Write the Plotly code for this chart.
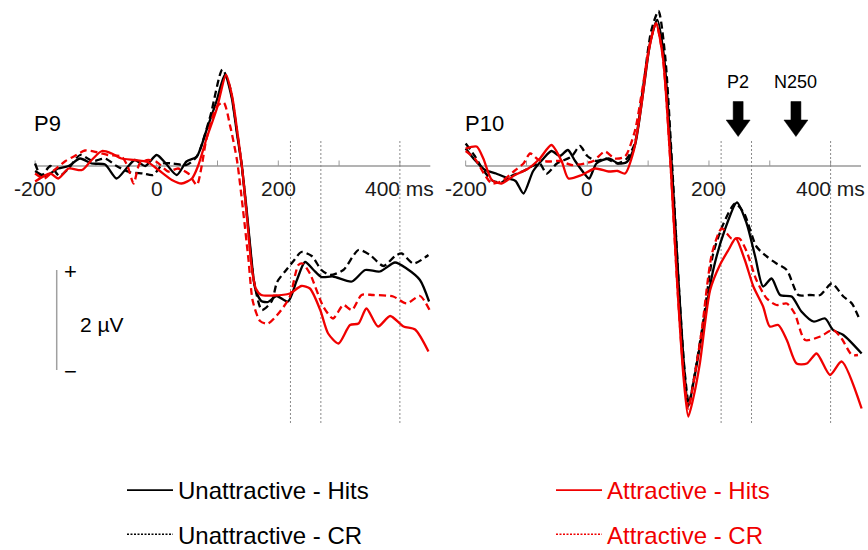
import plotly.graph_objects as go

# ---------------- data (time in ms, amplitude in µV) ----------------
# P9 electrode
p9_uh_t = [-200, -184, -162, -145, -126, -107, -85, -66, -50, -36, -19, 0, 15, 33, 49, 66, 82, 99, 112, 123, 132, 140, 148, 156, 162, 172, 183, 197, 216, 230, 244, 258, 271, 290, 321, 343, 367, 392, 411, 433, 448]
p9_uh_v = [-0.1, -0.2, -0.05, 0.0, 0.15, 0.05, 0.03, -0.25, -0.05, 0.12, 0.0, 0.22, 0.05, -0.18, 0.09, 0.19, 0.72, 1.32, 1.82, 1.39, 0.65, 0.0, -0.88, -1.88, -2.45, -2.7, -2.72, -2.6, -2.71, -2.3, -1.92, -2.08, -2.22, -2.21, -2.31, -2.08, -2.11, -1.93, -2.05, -2.28, -2.71]

p9_ucr_t = [-200, -190, -175, -160, -145, -126, -105, -85, -66, -45, -22, -6, 11, 27, 49, 66, 88, 108, 120, 132, 140, 150, 160, 173, 189, 198, 211, 225, 238, 255, 271, 285, 307, 332, 351, 373, 392, 403, 422, 447]
p9_ucr_v = [0.05, -0.2, 0.0, -0.2, -0.05, 0.22, 0.1, 0.15, 0.0, -0.12, -0.15, -0.18, 0.05, 0.05, 0.02, 0.19, 0.99, 1.93, 1.6, 0.7, 0.0, -1.2, -2.3, -2.88, -2.71, -2.32, -2.11, -1.9, -1.72, -1.8, -2.08, -2.18, -2.08, -1.68, -1.78, -2.0, -1.8, -1.75, -1.95, -1.78]

p9_ah_t = [-200, -175, -162, -145, -123, -107, -90, -74, -58, -36, -15, 3, 25, 41, 58, 68, 82, 99, 114, 124, 133, 141, 149, 156, 163, 172, 192, 219, 238, 252, 269, 282, 299, 318, 332, 345, 364, 384, 406, 425, 447]
p9_ah_v = [-0.31, -0.15, -0.25, -0.05, -0.08, 0.12, 0.3, 0.25, 0.15, 0.12, 0.08, -0.08, -0.28, -0.35, -0.25, 0.0, 0.55, 1.15, 1.82, 1.4, 0.65, -0.1, -1.1, -2.0, -2.45, -2.58, -2.59, -2.55, -2.4, -2.45, -2.88, -3.35, -3.55, -3.18, -3.15, -2.85, -3.21, -3.0, -3.21, -3.27, -3.71]

p9_acr_t = [-200, -185, -170, -150, -135, -118, -100, -80, -58, -48, -38, -28, -14, 0, 19, 35, 52, 66, 74, 82, 99, 110, 121, 132, 142, 151, 158, 170, 183, 203, 219, 233, 240, 252, 274, 290, 307, 321, 337, 356, 389, 411, 433, 450]
p9_acr_v = [-0.15, -0.25, -0.1, 0.1, 0.2, 0.31, 0.28, 0.22, 0.19, 0.0, -0.35, 0.05, 0.12, 0.08, -0.11, -0.05, -0.15, -0.38, 0.0, 0.55, 1.19, 1.27, 0.79, 0.12, -0.88, -1.88, -2.7, -3.1, -3.15, -2.91, -2.61, -1.98, -1.95, -2.15, -2.81, -3.05, -2.78, -2.88, -2.58, -2.58, -2.61, -2.75, -2.6, -2.91]

# P10 electrode
p10_uh_t = [-200, -185, -168, -150, -130, -118, -105, -89, -72, -59, -45, -32, -20, -5, 3, 15, 35, 51, 65, 78, 92, 104, 115, 126, 139, 150, 159, 166, 175, 185, 207, 226, 246, 262, 276, 289, 303, 317, 336, 352, 372, 391, 404, 421, 451]
p10_uh_v = [0.35, 0.12, -0.08, -0.15, -0.25, -0.3, -0.55, -0.1, 0.15, 0.3, 0.2, 0.32, 0.1, -0.15, -0.25, 0.05, 0.15, 0.05, 0.08, 0.4, 1.49, 2.5, 2.92, 2.2, 0.0, -2.3, -4.0, -4.81, -4.3, -3.61, -2.08, -1.28, -0.73, -1.15, -1.81, -2.41, -2.25, -2.58, -2.61, -2.91, -3.11, -3.05, -3.28, -3.38, -3.75]

p10_ucr_t = [-200, -185, -170, -155, -140, -125, -105, -90, -78, -67, -50, -26, -12, 0, 15, 30, 50, 65, 78, 92, 105, 117, 128, 140, 151, 160, 167, 176, 191, 207, 224, 243, 258, 278, 295, 311, 328, 347, 366, 383, 402, 421, 435, 448]
p10_ucr_v = [0.45, 0.2, -0.1, -0.3, -0.32, -0.2, -0.1, 0.0, 0.05, -0.15, 0.05, 0.19, 0.4, 0.2, 0.1, 0.15, 0.05, 0.15, 0.45, 1.6, 2.7, 3.1, 2.2, -0.1, -2.5, -4.1, -4.75, -4.2, -3.08, -1.75, -1.15, -0.75, -0.95, -1.61, -1.81, -1.95, -2.08, -2.58, -2.58, -2.58, -2.35, -2.61, -2.75, -3.08]

p10_ah_t = [-200, -182, -171, -157, -141, -119, -97, -78, -59, -42, -31, -9, 13, 35, 50, 62, 76, 89, 101, 113, 124, 137, 148, 158, 166, 175, 185, 202, 218, 232, 244, 259, 273, 289, 300, 314, 328, 344, 361, 377, 399, 418, 451]
p10_ah_v = [0.35, 0.39, 0.15, -0.28, -0.35, -0.18, -0.05, 0.15, 0.42, 0.09, -0.25, -0.18, -0.05, -0.11, -0.1, -0.15, 0.29, 1.22, 2.3, 2.85, 2.2, 0.0, -2.4, -4.2, -5.01, -4.6, -3.95, -2.48, -1.98, -1.68, -1.45, -1.88, -2.41, -2.81, -3.21, -3.18, -3.48, -3.95, -3.95, -3.75, -4.18, -3.91, -4.85]

p10_acr_t = [-200, -185, -170, -157, -140, -120, -105, -94, -80, -64, -45, -26, -5, 10, 29, 45, 62, 78, 90, 102, 113, 124, 137, 148, 158, 166, 175, 188, 205, 221, 237, 250, 262, 278, 295, 311, 328, 341, 358, 383, 404, 418, 435, 445]
p10_acr_v = [0.3, 0.15, -0.15, -0.35, -0.3, -0.1, 0.05, 0.25, 0.12, 0.09, 0.1, 0.02, 0.05, 0.1, 0.29, 0.15, 0.19, 0.69, 1.5, 2.4, 2.85, 2.2, 0.0, -2.4, -4.1, -4.85, -4.3, -3.3, -1.75, -1.25, -1.45, -1.45, -1.71, -2.28, -2.65, -2.78, -2.75, -2.95, -3.48, -3.41, -3.28, -3.45, -3.78, -3.78]

# axes / annotations
tick_marks = [-200, -100, 0, 100, 200, 300, 400]
tick_pos = [-200, 0, 200, 400]
tick_text = ["-200", "0", "200", "400 ms"]
axis_end = 450
window_lines = [220, 270, 400]
panel_names = ["P9", "P10"]
component_names = ["P2", "N250"]
component_times = [248, 343]
scale_bar_uv = 2
series_names = ["Unattractive - Hits", "Unattractive - CR", "Attractive - Hits", "Attractive - CR"]

# ---------------- figure ----------------
W, H = 868, 550
BLACK, RED = "#000000", "#f00000"
FONT = "Liberation Sans, Arial, sans-serif"

fig = go.Figure()

panels = [
    ("x", "y", [(p9_ucr_t, p9_ucr_v, BLACK, "7px,4px"), (p9_uh_t, p9_uh_v, BLACK, "solid"),
                (p9_acr_t, p9_acr_v, RED, "7px,4px"), (p9_ah_t, p9_ah_v, RED, "solid")]),
    ("x2", "y2", [(p10_ucr_t, p10_ucr_v, BLACK, "7px,4px"), (p10_uh_t, p10_uh_v, BLACK, "solid"),
                  (p10_acr_t, p10_acr_v, RED, "7px,4px"), (p10_ah_t, p10_ah_v, RED, "solid")]),
]

shapes = []
annotations = []
for pi, (xa, ya, curves) in enumerate(panels):
    shapes.append(dict(type="line", xref=xa, yref=ya, x0=tick_marks[0], x1=axis_end, y0=0, y1=0,
                       line=dict(color="#9a9a9a", width=1.5), layer="below"))
    for t in tick_marks:
        shapes.append(dict(type="line", xref=xa, yref=ya, x0=t, x1=t, y0=0, y1=0.11,
                           line=dict(color="#9a9a9a", width=1), layer="below"))
    for t in window_lines:
        shapes.append(dict(type="line", xref=xa, yref=ya, x0=t, x1=t, y0=0.5, y1=-5.15,
                           line=dict(color="#8a8a8a", width=1, dash="2px,2px"), layer="below"))
    for t, lab in zip(tick_pos, tick_text):
        annotations.append(dict(xref=xa, yref=ya, x=t, y=0, yshift=-22, text=lab, showarrow=False,
                                xanchor="center", yanchor="middle",
                                font=dict(family=FONT, size=21, color="#1a1a1a")))
    annotations.append(dict(xref=xa, yref=ya, x=tick_marks[0], y=0.86, text=panel_names[pi],
                            showarrow=False, xanchor="left", yanchor="middle", xshift=-3,
                            font=dict(family=FONT, size=22, color="#000000")))
    for t, v, col, dash in curves:
        fig.add_trace(go.Scatter(x=t, y=v, mode="lines", xaxis=xa, yaxis=ya, showlegend=False,
                                 hoverinfo="skip",
                                 line=dict(color=col, width=2.3, dash=dash, shape="spline", smoothing=0.7)))

# arrows for P2 and N250 on P10
for t, name in zip(component_times, component_names):
    sh, hd = 8.2, 19.7
    xs = [t - sh, t + sh, t + sh, t + hd, t, t - hd, t - sh, t - sh]
    ys = [1.29, 1.29, 0.92, 0.92, 0.59, 0.92, 0.92, 1.29]
    fig.add_trace(go.Scatter(x=xs, y=ys, mode="lines", fill="toself", fillcolor="#000000",
                             line=dict(color="#000000", width=0.5), xaxis="x2", yaxis="y2",
                             showlegend=False, hoverinfo="skip"))
    annotations.append(dict(xref="x2", yref="y2", x=t, y=1.68, text=name, showarrow=False,
                            xanchor="center", yanchor="middle",
                            font=dict(family=FONT, size=18, color="#000000")))

# scale bar on P9
sb_t, sb_top = -164.5, -2.08
shapes.append(dict(type="line", xref="x", yref="y", x0=sb_t, x1=sb_t, y0=sb_top, y1=sb_top - scale_bar_uv,
                   line=dict(color="#a0a0a0", width=1.5)))
annotations.append(dict(xref="x", yref="y", x=-142, y=sb_top - 0.02, text="+", showarrow=False,
                        xanchor="center", yanchor="middle",
                        font=dict(family=FONT, size=22, color="#000000")))
annotations.append(dict(xref="x", yref="y", x=-141, y=sb_top - scale_bar_uv - 0.02, text="\u2212", showarrow=False,
                        xanchor="center", yanchor="middle",
                        font=dict(family=FONT, size=22, color="#000000")))
annotations.append(dict(xref="x", yref="y", x=-129, y=sb_top - scale_bar_uv / 2 - 0.08, text=f"{scale_bar_uv} \u00b5V",
                        showarrow=False, xanchor="left", yanchor="middle",
                        font=dict(family=FONT, size=21, color="#000000")))

# legend entries (separate samples, dotted style as in the original key)
legend_specs = [(series_names[0], BLACK, "solid", "legend"), (series_names[1], BLACK, "2px,1.5px", "legend"),
                (series_names[2], RED, "solid", "legend2"), (series_names[3], RED, "2px,1.5px", "legend2")]
for i, (nm, col, dash, lg) in enumerate(legend_specs):
    fig.add_trace(go.Scatter(x=[None], y=[None], mode="lines", name=nm, legend=lg, legendgroup=f"g{i}",
                             line=dict(color=col, width=1.6, dash=dash), xaxis="x", yaxis="y"))

x_l_dom = [28 / W, 436 / W]
x_r_dom = [458 / W, 866 / W]
y_dom = [0.2, 1.0]

fig.update_layout(
    width=W, height=H, autosize=False,
    margin=dict(l=0, r=0, t=0, b=0, autoexpand=False),
    paper_bgcolor="white", plot_bgcolor="white",
    xaxis=dict(domain=x_l_dom, range=[-211.7, 459.4], visible=False),
    xaxis2=dict(domain=x_r_dom, range=[-212.6, 458.2], visible=False),
    yaxis=dict(domain=y_dom, range=[-5.48, 3.32], visible=False),
    yaxis2=dict(domain=y_dom, range=[-5.48, 3.32], visible=False, anchor="x2"),
    shapes=shapes,
    annotations=annotations,
    legend=dict(x=122 / W, y=1 - 468 / H, xanchor="left", yanchor="top", tracegroupgap=10,
                font=dict(family=FONT, size=24, color="#000000"), itemwidth=46,
                bgcolor="rgba(0,0,0,0)"),
    legend2=dict(x=551 / W, y=1 - 468 / H, xanchor="left", yanchor="top", tracegroupgap=10,
                 font=dict(family=FONT, size=24, color=RED), itemwidth=46,
                 bgcolor="rgba(0,0,0,0)"),
    showlegend=True,
)

fig.write_html("out.html", config={"displayModeBar": False},
               post_script="document.body.style.margin='0';")
